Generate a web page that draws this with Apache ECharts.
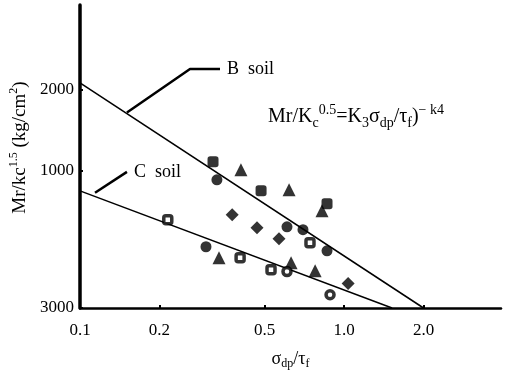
<!DOCTYPE html>
<html>
<head>
<meta charset="utf-8">
<script src="https://cdn.jsdelivr.net/npm/echarts@6/dist/echarts.min.js"></script>
<style>html,body{margin:0;padding:0;background:#fff;}#c{width:511px;height:370px;}</style>
</head>
<body>
<div id="c"></div>
<script>
// ---- data ----
const xTicks = [0.1, 0.2, 0.5, 1.0, 2.0];
const xTickLabels = ['0.1', '0.2', '0.5', '1.0', '2.0'];
const yTicks = [310, 1000, 2000];
const yTickLabels = ['3000', '1000', '2000'];

const lineB = [[0.1, 2118], [2.0, 310]];
const lineC = [[0.1, 843], [1.52, 310]];
const leaderB = [[0.1506, 1645], [0.261, 2386], [0.339, 2386]];
const leaderC = [[0.114, 829], [0.1506, 991]];

const filledCircles = [[0.330, 926], [0.608, 620], [0.699, 605], [0.862, 505], [0.300, 523]];
const filledSquares = [[0.319, 1080], [0.485, 843], [0.862, 755]];
const triangles = [[0.407, 1009], [0.619, 850], [0.825, 711], [0.336, 476], [0.630, 456], [0.777, 426]];
const diamonds = [[0.377, 687], [0.468, 615], [0.567, 560], [1.036, 382]];
const openSquares = [[0.743, 541], [0.404, 476], [0.529, 430], [0.215, 658]];
const openCircles = [[0.608, 423], [0.885, 347]];

const FONT = 'Liberation Serif';
function pick(ticks, labels) {
  return function (v) {
    let best = 0, bd = Infinity;
    ticks.forEach((t, i) => { const d = Math.abs(Math.log(t) - Math.log(v)); if (d < bd) { bd = d; best = i; } });
    return labels[best];
  };
}

const chart = echarts.init(document.getElementById('c'), null, { renderer: 'canvas' });
function scatter(data, symbol, size, fill, border) {
  return {
    type: 'scatter', data: data, symbol: symbol, symbolSize: size,
    itemStyle: { color: fill, borderColor: '#000', borderWidth: border || 0 },
    silent: true, z: 5
  };
}
chart.setOption({
  animation: false,
  backgroundColor: '#fff',
  textStyle: { fontFamily: FONT, color: '#000' },
  grid: { left: 80, right: 10, top: 5, bottom: 62, containLabel: false, outerBoundsMode: 'none' },
  xAxis: {
    type: 'log', logBase: 10, min: 0.1, max: 3.93,
    axisLine: { lineStyle: { color: '#000', width: 2.5 } },
    axisTick: { show: true, inside: true, length: 3, customValues: xTicks, lineStyle: { color: '#000', width: 2 } },
    axisLabel: { customValues: xTicks, formatter: pick(xTicks, xTickLabels), fontFamily: FONT, fontSize: 17, color: '#000', margin: 14 },
    splitLine: { show: false }, minorTick: { show: false },
    name: '{n|σ}{s|dp}{n|/τ}{s|f}',
    nameLocation: 'middle', nameGap: 40,
    nameTextStyle: {
      rich: {
        n: { fontFamily: FONT, fontSize: 18, color: '#000', lineHeight: 22 },
        s: { fontFamily: FONT, fontSize: 12, color: '#000', verticalAlign: 'bottom', lineHeight: 13 }
      }
    }
  },
  yAxis: {
    type: 'log', logBase: 10, min: 310, max: 4120,
    axisLine: { lineStyle: { color: '#000', width: 3.5 } },
    axisTick: { show: true, inside: true, length: 3, customValues: yTicks, lineStyle: { color: '#000', width: 2 } },
    axisLabel: { customValues: yTicks, formatter: pick(yTicks, yTickLabels), fontFamily: FONT, fontSize: 17, color: '#000', margin: 6 },
    splitLine: { show: false }, minorTick: { show: false },
    name: '{n|Mr/kc}{p|1.5}{n| (kg/cm}{p|2}{n|)}',
    nameLocation: 'middle', nameGap: 47, nameRotate: 90,
    nameTextStyle: {
      padding: [0, 0, 0, 18],
      rich: {
        n: { fontFamily: FONT, fontSize: 19, color: '#000', lineHeight: 24 },
        p: { fontFamily: FONT, fontSize: 12, color: '#000', verticalAlign: 'top', lineHeight: 13 }
      }
    }
  },
  graphic: [{
    type: 'text', left: 268, top: 103, silent: true,
    style: {
      text: '{n|Mr/K}{b|c}{p|0.5}{n|=K}{b|3}{n|σ}{b|dp}{n|/τ}{b|f}{n|)}{p|− k4}',
      rich: {
        n: { fontFamily: FONT, fontSize: 20, fill: '#000', lineHeight: 27 },
        p: { fontFamily: FONT, fontSize: 14, fill: '#000', verticalAlign: 'top', lineHeight: 15 },
        b: { fontFamily: FONT, fontSize: 14, fill: '#000', verticalAlign: 'bottom', lineHeight: 15 }
      }
    }
  }],
  series: [
    { type: 'line', data: lineB, showSymbol: false, lineStyle: { color: '#000', width: 1.5 }, silent: true, z: 3 },
    { type: 'line', data: lineC, showSymbol: false, lineStyle: { color: '#000', width: 1.5 }, silent: true, z: 3 },
    {
      type: 'line', data: leaderB, showSymbol: false, lineStyle: { color: '#000', width: 2.5 }, silent: true, z: 3,
      endLabel: { show: true, formatter: 'B  soil', fontFamily: FONT, fontSize: 18, color: '#000', distance: 7 }
    },
    {
      type: 'line', data: leaderC, showSymbol: false, lineStyle: { color: '#000', width: 2.5 }, silent: true, z: 3,
      endLabel: { show: true, formatter: 'C  soil', fontFamily: FONT, fontSize: 18, color: '#000', distance: 7 }
    },
    scatter(filledCircles, 'circle', 11, '#000'),
    scatter(filledSquares, 'roundRect', 11, '#000'),
    scatter(triangles, 'triangle', 13, '#000'),
    scatter(diamonds, 'diamond', 13, '#000'),
    scatter(openSquares, 'roundRect', 8, '#fff', 3.5),
    scatter(openCircles, 'circle', 8, '#fff', 3.5)
  ]
});
</script>
</body>
</html>
